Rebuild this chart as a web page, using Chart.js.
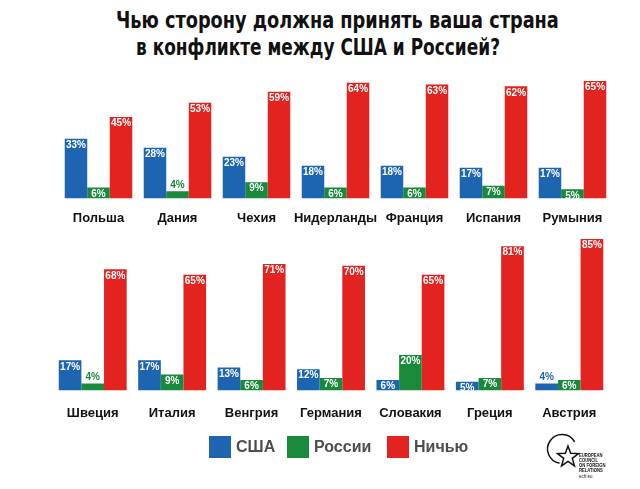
<!DOCTYPE html>
<html><head><meta charset="utf-8">
<script src="https://cdn.jsdelivr.net/npm/chart.js@4/dist/chart.umd.min.js"></script>
<style>
html,body{margin:0;padding:0;background:#fff;}
body{width:640px;height:489px;position:relative;overflow:hidden;font-family:"Liberation Sans",Arial,sans-serif;}
.t{position:absolute;white-space:nowrap;font-family:"Liberation Sans Narrow","DejaVu Sans Condensed","Roboto Condensed","Liberation Sans",sans-serif;font-stretch:condensed;font-weight:bold;font-size:23px;color:#111;line-height:26px;transform-origin:0 0;}
canvas{position:absolute;left:0;}
.lg{position:absolute;top:436px;height:22px;display:flex;align-items:center;font-weight:bold;font-size:16px;color:#4d4d4d;}
.lg span.sq{display:inline-block;width:22px;height:22px;margin-right:5px;}
</style></head>
<body>
<div class="t" id="t1" style="left:116px;top:7px;transform:scaleX(0.857);">Чью сторону должна принять ваша страна</div>
<div class="t" id="t2" style="left:136px;top:34px;transform:scaleX(0.82);">в конфликте между США и Россией?</div>
<canvas id="c1" width="640" height="240" style="top:0px"></canvas>
<canvas id="c2" width="640" height="250" style="top:200px"></canvas>
<div id="legend"></div>
<svg style="position:absolute;left:540px;top:428px" width="100" height="58" viewBox="0 0 100 58">
  <path d="M 34.6 13.75 A 14.5 14.5 0 1 0 19.5 35.3" fill="none" stroke="#111" stroke-width="1.5"/>
  <polygon points="28,18 30.65,25.36 38.46,25.6 32.28,30.39 34.47,37.9 28,33.5 21.53,37.9 23.72,30.39 17.54,25.6 25.35,25.36" fill="#fff" stroke="#111" stroke-width="1.5" stroke-linejoin="miter"/>
  <g transform="translate(39,0) scale(0.72,1)" font-family="Liberation Sans, Arial, sans-serif" font-weight="bold" font-size="5.8" fill="#111">
    <text x="0" y="29.3">EUROPEAN</text>
    <text x="0" y="34.3">COUNCIL</text>
    <text x="0" y="39.3">ON FOREIGN</text>
    <text x="0" y="44.3">RELATIONS</text>
    <text x="0" y="49.7" font-weight="normal" font-size="6.2">ecfr.eu</text>
  </g>
</svg>
<script>
const seriesNames = ['США', 'России', 'Ничью'];
const seriesColors = ['#1d65b1', '#198a3b', '#e2231f'];

const categories1 = ['Польша', 'Дания', 'Чехия', 'Нидерланды', 'Франция', 'Испания', 'Румыния'];
const usa1 = [33, 28, 23, 18, 18, 17, 17];
const russia1 = [6, 4, 9, 6, 6, 7, 5];
const neither1 = [45, 53, 59, 64, 63, 62, 65];

const categories2 = ['Швеция', 'Италия', 'Венгрия', 'Германия', 'Словакия', 'Греция', 'Австрия'];
const usa2 = [17, 17, 13, 12, 6, 5, 4];
const russia2 = [4, 9, 6, 7, 20, 7, 6];
const neither2 = [68, 65, 71, 70, 65, 81, 85];

// legend (HTML)
const legendLefts = [209, 287, 387];
const legendEl = document.getElementById('legend');
seriesNames.forEach((n, i) => {
  const d = document.createElement('div');
  d.className = 'lg';
  d.style.left = legendLefts[i] + 'px';
  d.innerHTML = '<span class="sq" style="background:' + seriesColors[i] + '"></span>' + n;
  legendEl.appendChild(d);
});

const valuePlugin = {
  id: 'vals',
  afterDatasetsDraw(chart) {
    const ctx = chart.ctx;
    ctx.save();
    ctx.font = 'bold 10px "Liberation Sans", Arial, sans-serif';
    ctx.textAlign = 'center';
    chart.data.datasets.forEach((ds, i) => {
      const meta = chart.getDatasetMeta(i);
      meta.data.forEach((bar, j) => {
        const v = ds.data[j];
        const txt = v + '%';
        if (v <= 4) {
          ctx.fillStyle = ds.backgroundColor;
          ctx.textBaseline = 'bottom';
          ctx.fillText(txt, bar.x, bar.y - 1);
        } else {
          ctx.fillStyle = '#ffffff';
          ctx.textBaseline = 'middle';
          ctx.fillText(txt, bar.x, bar.y + 6.5);
        }
      });
    });
    ctx.restore();
  }
};

function makeChart(id, cats, a, b, c, pad, tickPad) {
  return new Chart(document.getElementById(id), {
    type: 'bar',
    data: {
      labels: cats,
      datasets: [
        { label: seriesNames[0], data: a, backgroundColor: seriesColors[0] },
        { label: seriesNames[1], data: b, backgroundColor: seriesColors[1] },
        { label: seriesNames[2], data: c, backgroundColor: seriesColors[2] }
      ]
    },
    options: {
      responsive: false,
      animation: false,
      layout: { padding: pad },
      plugins: { legend: { display: false }, tooltip: { enabled: false }, title: { display: false } },
      datasets: { bar: { categoryPercentage: 0.855, barPercentage: 1.0, borderWidth: 0 } },
      scales: {
        x: {
          grid: { display: false, drawTicks: false },
          border: { display: false },
          ticks: { color: '#111', font: { size: 13, weight: 'bold', lineHeight: 16.8 / 13, family: '"Liberation Sans", Arial, sans-serif' }, padding: tickPad, maxRotation: 0, autoSkip: false }
        },
        y: { display: false, min: 0, max: 100 }
      }
    },
    plugins: [valuePlugin]
  });
}

makeChart('c1', categories1, usa1, russia1, neither1, { left: 59, right: 28, top: 17.7, bottom: 0.8 }, 12);
makeChart('c2', categories2, usa2, russia2, neither2, { left: 53, right: 31, top: 12.3, bottom: 14.6 }, 14);
</script>
</body></html>
